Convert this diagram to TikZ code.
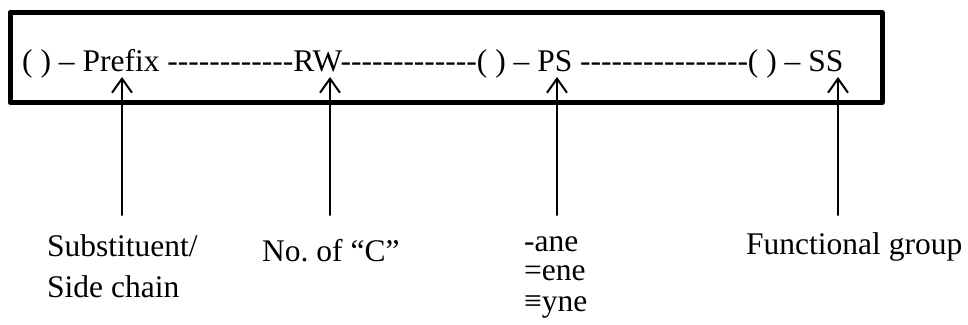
\documentclass[tikz,border=0pt]{standalone}
\usepackage{fontspec}
\setmainfont{Liberation Serif}
\usetikzlibrary{arrows.meta}

% a run of plain hyphens (kerns stop the -- ligature)
\newcommand\hyphenrun[1]{\foreach \i in {1,...,#1}{-\kern0pt}}

\begin{document}
\frenchspacing
\begin{tikzpicture}[
    x=1pt, y=1pt,
    line cap=round,
    line join=round,
    >={Straight Barb[length=14pt,width=20pt,line width=2pt]}, % open arrow tip
    label/.style={inner sep=0pt, anchor=base west, align=left,
                  font=\fontsize{31.5}{32}\selectfont},
    pointer/.style={->, line width=2pt}
]
\useasboundingbox (0,0) rectangle (968,324);

%-----------------------
% 1) NAME FRAME
%-----------------------
\draw[line width=5pt, line cap=rect] (10,311.5) rectangle (882,221.5);

\node[label] (name) at (22,252)
  {( ) – Prefix \hyphenrun{12}RW\hyphenrun{13}( ) – PS \hyphenrun{16}( ) – SS};

%-----------------------
% 2) PARTS OF THE NAME
%-----------------------
% base anchor of a multi-line label = its last line
\node[label] (sub) at (47,27) {Substituent/\\[9pt]Side chain};
\node[label] (num) at (262,63) {No. of “C”};
\node[label] (bond) at (524,13) {-ane\\[-3pt]=ene\\[-1pt]≡yne};
\node[label] (func) at (746,70) {Functional group};

% tips and tails of the pointers
\coordinate (subtip)  at (122,247);
\coordinate (numtip)  at (330,247);
\coordinate (bondtip) at (557,247);
\coordinate (functip) at (838,247);

\coordinate (subtail)  at (subtip |- 0,109);
\coordinate (numtail)  at (numtip |- 0,109);
\coordinate (bondtail) at (bondtip |- 0,109);
\coordinate (functail) at (functip |- 0,109);

\draw[pointer] (subtail) -- (subtip);
\draw[pointer] (numtail) -- (numtip);
\draw[pointer] (bondtail) -- (bondtip);
\draw[pointer] (functail) -- (functip);

\end{tikzpicture}
\end{document}
